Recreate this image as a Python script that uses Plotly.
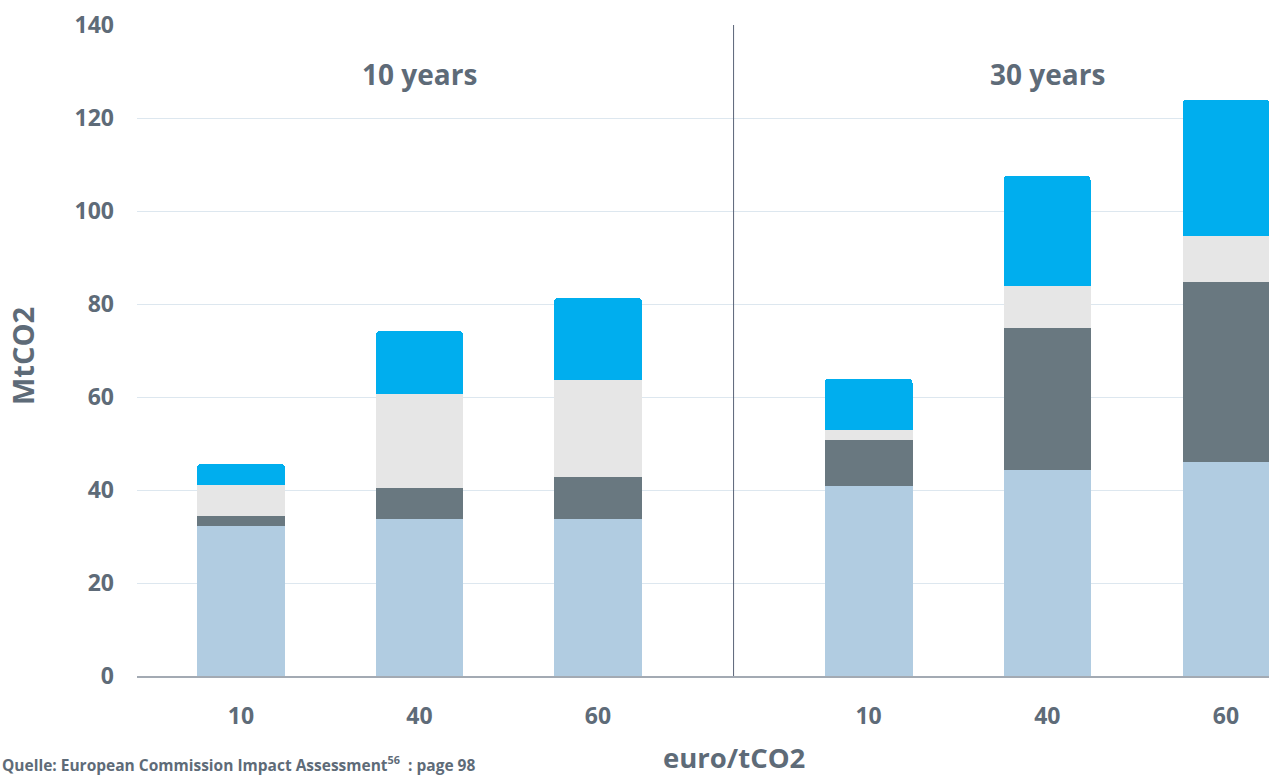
import plotly.graph_objects as go

# Carbon price scenarios (euro/tCO2) and time horizons
prices = ["10", "40", "60"]
horizons = ["10 years", "30 years"]

# Stacked components in MtCO2, one list per horizon (order: 10, 40, 60 euro/tCO2)
seg_a = {"10 years": [32.3, 33.8, 33.8], "30 years": [40.9, 44.3, 46.0]}
seg_b = {"10 years": [2.1, 6.6, 9.0], "30 years": [9.9, 30.5, 38.7]}
seg_c = {"10 years": [6.7, 20.2, 20.9], "30 years": [2.1, 9.1, 9.9]}
seg_d = {"10 years": [4.5, 13.6, 17.6], "30 years": [11.0, 23.6, 29.3]}

y_ticks = [0, 20, 40, 60, 80, 100, 120, 140]

colors = ["#B1CCE1", "#697880", "#E6E6E6", "#00AEEE"]
text_color = "#5E6B78"
font_family = "Open Sans"

fig = go.Figure()
axes = [("x", "y"), ("x2", "y2")]
for (xa, ya), h in zip(axes, horizons):
    for seg, col in zip([seg_a, seg_b, seg_c, seg_d], colors):
        fig.add_trace(go.Bar(
            x=prices, y=seg[h], xaxis=xa, yaxis=ya,
            marker=dict(color=col, line=dict(width=0)),
            width=0.49, showlegend=False, hoverinfo="y",
        ))

split = 0.527
grid = "#DDE7EF"
tick_font = dict(family=font_family, size=23, color=text_color, weight=700)
xcommon = dict(
    type="category", showgrid=False, zeroline=False,
    showline=True, linecolor="#A3AAB3", linewidth=2,
    tickfont=tick_font, ticks="", ticklabelstandoff=18,
)
ycommon = dict(
    range=[0, 140], tickvals=y_ticks, showgrid=True, gridcolor=grid,
    gridwidth=1, zeroline=False, showline=False,
)

fig.update_layout(
    width=1269, height=778,
    margin=dict(l=137, r=0, t=25, b=102),
    paper_bgcolor="white", plot_bgcolor="white",
    barmode="stack", bargap=0, barcornerradius=4,
    xaxis=dict(domain=[0, split], range=[-0.582, 2.76], **xcommon),
    xaxis2=dict(domain=[split, 1], range=[-0.756, 2.241], anchor="y2", **xcommon),
    yaxis=dict(**ycommon, tickfont=tick_font, ticklabelstandoff=22),
    yaxis2=dict(**ycommon, anchor="x2", matches="y", showticklabels=False),
)

# Divider between the two horizons
fig.add_shape(type="line", xref="paper", yref="y", x0=split, x1=split, y0=0, y1=140,
              line=dict(color="#5A6478", width=1))

# Horizon headings, centred over the middle price of each group
mid = prices.index("40")
for xa, h in zip(["x", "x2"], horizons):
    fig.add_annotation(x=mid, y=129.5, xref=xa, yref="y", text=h, showarrow=False,
                       xanchor="center", yanchor="middle",
                       font=dict(family=font_family, size=28, color=text_color, weight=700))

# Axis titles
fig.add_annotation(x=-0.1007, y=0.4916, xref="paper", yref="paper", text="MtCO2",
                   textangle=-90, showarrow=False, xanchor="center", yanchor="middle",
                   font=dict(family=font_family, size=29, color=text_color, weight=700))
fig.add_annotation(x=split, y=-0.1245, xref="paper", yref="paper", text="euro/tCO2",
                   showarrow=False, xanchor="center", yanchor="middle",
                   font=dict(family=font_family, size=27.5, color=text_color, weight=700))

# Source note
fig.add_annotation(x=-0.121, y=-0.1345, xref="paper", yref="paper",
                   text="Quelle: European Commission Impact Assessment<sup>56</sup>  : page 98",
                   showarrow=False, xanchor="left", yanchor="middle",
                   font=dict(family=font_family, size=15.5, color=text_color, weight=700))

fig.write_html("out.html")
